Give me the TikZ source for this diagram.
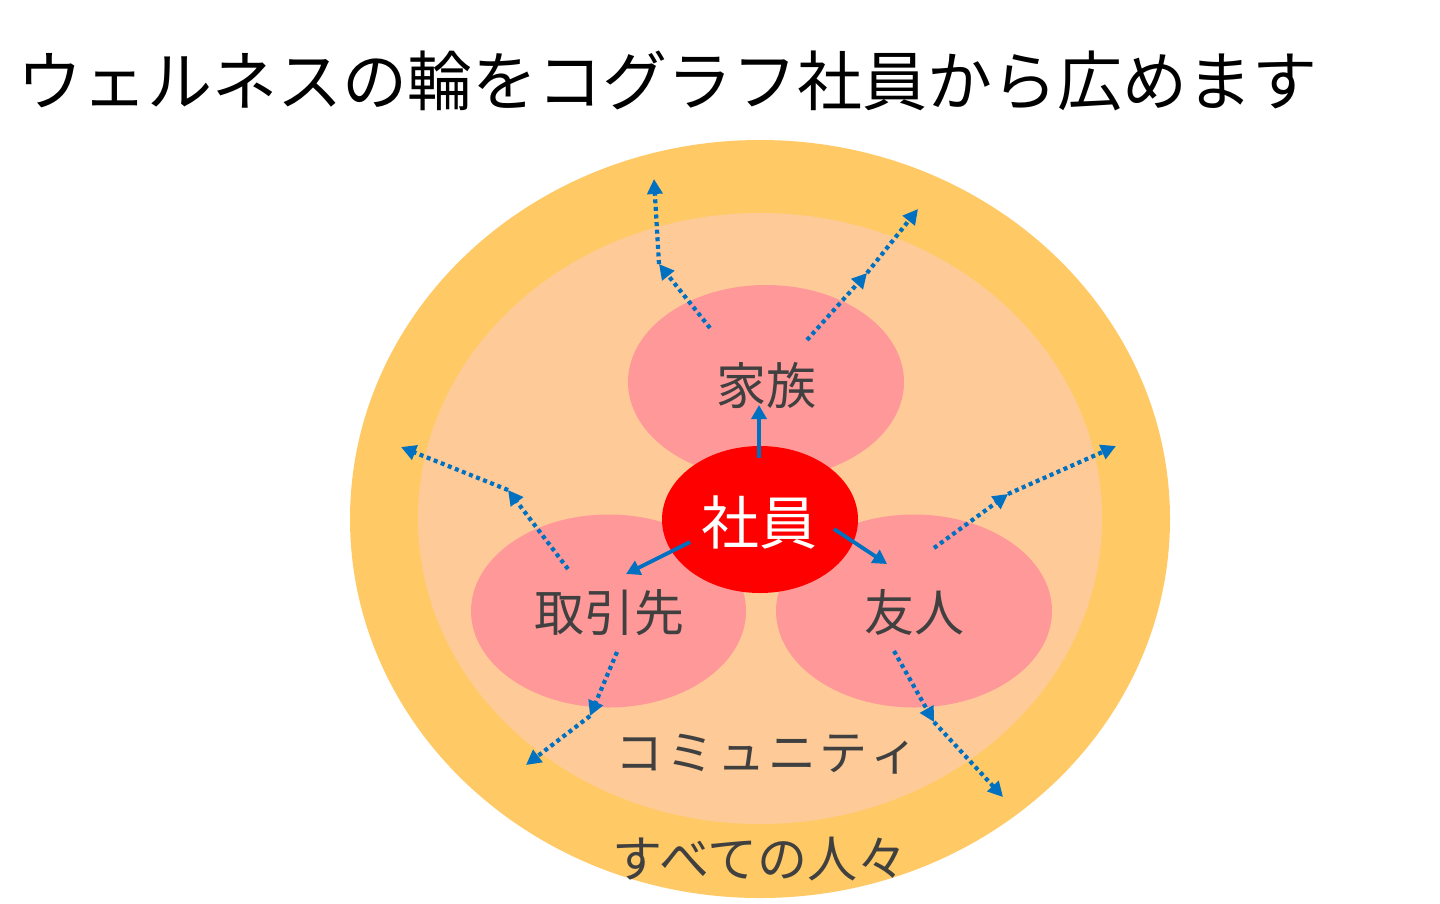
\documentclass[tikz,border=0pt]{standalone}
\usepackage{fontspec}
\setmainfont{Noto Sans CJK JP}
\usetikzlibrary{arrows.meta,shapes.geometric}
\definecolor{outerc}{HTML}{FFCA66}
\definecolor{innerc}{HTML}{FECB98}
\definecolor{pinkc}{HTML}{FF9999}
\definecolor{redc}{HTML}{FF0000}
\definecolor{bluec}{HTML}{0070C0}
\definecolor{textc}{HTML}{404040}
\tikzset{
  blob/.style={ellipse, inner sep=0pt, draw=none},
  lbl/.style={anchor=base, inner sep=0pt, text=textc},
  solidarrow/.style={draw=bluec, line width=3.8pt, -{Triangle[length=14pt,width=15pt]}},
  dotarrow/.style={draw=bluec, line width=4.2pt, dash pattern=on 4pt off 3.6pt, -{Triangle[length=15pt,width=15pt]}},
}
\begin{document}
\begin{tikzpicture}[x=1pt,y=-1pt]
\useasboundingbox (0,0) rectangle (1440,903);
\fill[white] (0,0) rectangle (1440,903);
% title
\node[anchor=base west, inner sep=0pt, font=\fontsize{65pt}{70pt}\selectfont] (title) at (17,105) {ウェルネスの輪をコグラフ社員から広めます};
% rings
\node[blob, fill=outerc, minimum width=820pt, minimum height=758pt] (outer) at (760,519) {};
\node[blob, fill=innerc, minimum width=684pt, minimum height=611pt] (inner) at (760,518.5) {};
% pink ellipses
\node[blob, fill=pinkc, minimum width=276pt, minimum height=194pt] (kazoku) at (766,382) {};
\node[blob, fill=pinkc, minimum width=275pt, minimum height=193pt] (torihiki) at (608.5,611) {};
\node[blob, fill=pinkc, minimum width=276pt, minimum height=193pt] (yujin) at (914,611) {};
% center
\node[blob, fill=redc, minimum width=196pt, minimum height=147pt] (shain) at (760,519.5) {};
% labels
\node[lbl, font=\fontsize{50pt}{55pt}\selectfont] (tk) at (766,404) {家族};
\node[lbl, font=\fontsize{50pt}{55pt}\selectfont] (tt) at (609,631) {取引先};
\node[lbl, font=\fontsize{50pt}{55pt}\selectfont] (ty) at (914,631) {友人};
\node[lbl, text=white, font=\fontsize{58pt}{62pt}\selectfont] (ts) at (759,544) {社員};
\node[lbl, font=\fontsize{48pt}{52pt}\selectfont] (tc) at (767,770) {コ\hspace{3pt}ミ\hspace{3pt}ュ\hspace{3pt}ニ\hspace{3pt}テ\hspace{3pt}ィ};
\node[lbl, font=\fontsize{50pt}{55pt}\selectfont] (tp) at (760,877) {すべての人々};
% coordinates for arrows
\coordinate (s0) at (759,458);
\coordinate (s1) at (759,405);
\coordinate (l0) at (690,542);
\coordinate (l1) at (626,574);
\coordinate (r0) at (834,529);
\coordinate (r1) at (887,564);
% dotted arrows: top-left
\coordinate (a0) at (710,328);
\coordinate (a1) at (659,264);
\coordinate (a2) at (654,179);
% top-right
\coordinate (b0) at (807,340);
\coordinate (b1) at (867,273);
\coordinate (b2) at (918,209);
% left
\coordinate (c0) at (568,569);
\coordinate (c1) at (508,490);
\coordinate (c2) at (401,447);
% right
\coordinate (d0) at (934,548);
\coordinate (d1) at (1008,494);
\coordinate (d2) at (1116,446);
% bottom-left
\coordinate (e0) at (617,652);
\coordinate (e1) at (590,716);
\coordinate (e2) at (526,765);
% bottom-right
\coordinate (f0) at (894,651);
\coordinate (f1) at (934,722);
\coordinate (f2) at (1003,797);
% solid arrows
\draw[solidarrow] (s0) -- (s1);
\draw[solidarrow] (l0) -- (l1);
\draw[solidarrow] (r0) -- (r1);
% dotted arrows
\foreach \p in {a,b,c,d,e,f}{
  \draw[dotarrow] (\p0) -- (\p1);
  \draw[dotarrow] (\p1) -- (\p2);
}
\end{tikzpicture}
\end{document}
